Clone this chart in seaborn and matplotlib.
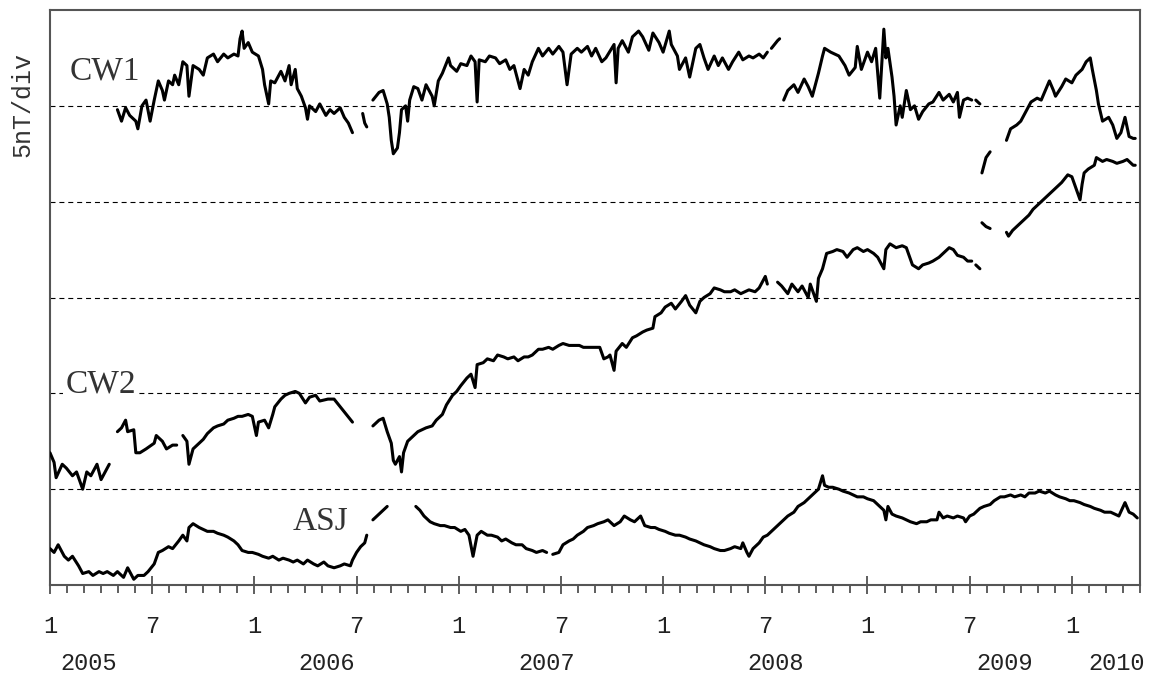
import numpy as np
import pandas as pd
import seaborn as sns
import matplotlib.pyplot as plt

gap = np.nan

# CW1 (decimal year, nT) - NaN marks a data gap
cw1_year = [
    2005.33, 2005.35, 2005.37, 2005.39, 2005.42, 2005.43, 2005.45, 2005.47, 2005.49, 2005.51,
    2005.53, 2005.55, 2005.56, 2005.58, 2005.60, 2005.61, 2005.63, 2005.65, 2005.67, 2005.68,
    2005.70, 2005.73, 2005.75, 2005.77, 2005.80, 2005.82, 2005.85, 2005.87, 2005.90, 2005.92,
    2005.93, 2005.94, 2005.95, 2005.97, 2005.99, 2006.02, 2006.04, 2006.05, 2006.07, 2006.08,
    2006.10, 2006.13, 2006.15, 2006.17, 2006.18, 2006.20, 2006.21, 2006.23, 2006.25, 2006.26,
    2006.27, 2006.30, 2006.32, 2006.35, 2006.37, 2006.39, 2006.42, 2006.44, 2006.46, 2006.48, gap,
    2006.53, 2006.54, 2006.55, gap,
    2006.58, 2006.61, 2006.63, 2006.65, 2006.66, 2006.67, 2006.68, 2006.70, 2006.71, 2006.72,
    2006.74, 2006.75, 2006.76, 2006.78, 2006.80, 2006.82, 2006.84, 2006.87, 2006.88, 2006.90,
    2006.92, 2006.95, 2006.96, 2006.99, 2007.01, 2007.04, 2007.06, 2007.08, 2007.09, 2007.10,
    2007.13, 2007.15, 2007.18, 2007.20, 2007.23, 2007.25, 2007.27, 2007.30, 2007.32, 2007.34,
    2007.36, 2007.39, 2007.41, 2007.44, 2007.46, 2007.49, 2007.51, 2007.53, 2007.55, 2007.58,
    2007.60, 2007.63, 2007.65, 2007.67, 2007.70, 2007.72, 2007.76, 2007.77, 2007.78, 2007.80,
    2007.83, 2007.85, 2007.88, 2007.90, 2007.93, 2007.95, 2007.98, 2008.00, 2008.03, 2008.04,
    2008.07, 2008.08, 2008.11, 2008.13, 2008.16, 2008.18, 2008.20, 2008.22, 2008.25, 2008.27,
    2008.29, 2008.32, 2008.34, 2008.37, 2008.39, 2008.42, 2008.44, 2008.47, 2008.49, 2008.51, gap,
    2008.53, 2008.56, 2008.57, gap,
    2008.59, 2008.61, 2008.64, 2008.66, 2008.69, 2008.71, 2008.73, 2008.76, 2008.78, 2008.79,
    2008.82, 2008.84, 2008.86, 2008.89, 2008.91, 2008.94, 2008.95, 2008.97, 2009.00, 2009.02,
    2009.04, 2009.06, 2009.08, 2009.09, 2009.10, 2009.12, 2009.13, 2009.14, 2009.16, 2009.17,
    2009.19, 2009.21, 2009.23, 2009.25, 2009.27, 2009.30, 2009.32, 2009.35, 2009.37, 2009.40,
    2009.42, 2009.44, 2009.45, 2009.47, 2009.49, 2009.51, gap,
    2009.53, 2009.55, gap,
    2009.56, 2009.58, 2009.60, gap,
    2009.68, 2009.70, 2009.73, 2009.75, 2009.78, 2009.80, 2009.83, 2009.85, 2009.87, 2009.89,
    2009.91, 2009.92, 2009.95, 2009.97, 2010.00, 2010.02, 2010.05, 2010.07, 2010.09, 2010.10,
    2010.12, 2010.13, 2010.15, 2010.18, 2010.20, 2010.22, 2010.24, 2010.26, 2010.28, 2010.30, 2010.31,
]
cw1_nt = [
    24.8, 24.2, 24.9, 24.5, 24.2, 23.8, 25.0, 25.3, 24.2, 25.3,
    26.3, 25.8, 25.3, 26.3, 26.1, 26.6, 26.1, 27.3, 27.1, 25.5,
    27.1, 26.9, 26.6, 27.5, 27.7, 27.3, 27.7, 27.5, 27.7, 27.6,
    28.5, 28.9, 28.0, 28.3, 27.8, 27.6, 26.9, 26.1, 25.1, 26.3,
    26.2, 26.8, 26.3, 27.1, 26.1, 26.9, 25.9, 25.5, 24.9, 24.3,
    25.0, 24.7, 25.1, 24.5, 24.8, 24.6, 24.9, 24.4, 24.1, 23.6, gap,
    24.6, 24.1, 23.9, gap,
    25.3, 25.7, 25.8, 25.1, 24.4, 23.2, 22.5, 22.8, 23.6, 24.8,
    25.0, 24.2, 25.3, 26.0, 25.9, 25.3, 26.1, 25.5, 25.0, 26.3,
    26.7, 27.5, 27.1, 26.8, 27.2, 27.1, 27.6, 27.3, 25.2, 27.4,
    27.3, 27.6, 27.5, 27.2, 27.4, 26.9, 27.1, 25.9, 26.9, 26.6,
    27.3, 28.0, 27.6, 28.0, 27.7, 28.1, 27.8, 26.1, 27.7, 28.0,
    27.8, 28.1, 27.6, 28.0, 27.3, 27.5, 28.2, 26.2, 28.0, 28.4,
    27.8, 28.6, 28.9, 28.6, 27.9, 28.8, 28.3, 27.8, 28.9, 28.2,
    27.6, 26.9, 27.5, 26.5, 28.0, 28.2, 27.5, 26.9, 27.6, 27.1,
    27.5, 26.9, 27.3, 27.8, 27.4, 27.6, 27.5, 27.7, 27.5, 27.8, gap,
    28.0, 28.4, 28.5, gap,
    25.3, 25.8, 26.1, 25.7, 26.4, 26.0, 25.5, 26.7, 27.6, 28.0,
    27.8, 27.7, 27.6, 27.1, 26.6, 27.0, 28.1, 26.9, 27.8, 27.3,
    28.0, 25.4, 29.0, 27.5, 28.0, 26.5, 25.5, 24.0, 25.0, 24.4,
    25.8, 24.8, 25.0, 24.3, 24.7, 25.1, 25.2, 25.7, 25.3, 25.6,
    25.2, 25.7, 24.4, 25.3, 25.4, 25.3, gap,
    25.3, 25.1, gap,
    21.5, 22.3, 22.6, gap,
    23.2, 23.8, 24.0, 24.2, 24.8, 25.2, 25.4, 25.3, 25.8, 26.3,
    25.8, 25.5, 26.0, 26.4, 26.2, 26.6, 26.9, 27.3, 27.5, 26.9,
    25.8, 25.1, 24.2, 24.4, 24.0, 23.3, 23.6, 24.4, 23.4, 23.3, 23.3,
]

# CW2
cw2_year = [
    2005.00, 2005.02, 2005.03, 2005.06, 2005.08, 2005.11, 2005.13, 2005.16, 2005.18, 2005.20,
    2005.23, 2005.25, 2005.28, 2005.29, gap,
    2005.33, 2005.35, 2005.37, 2005.38, 2005.41, 2005.42, 2005.44, 2005.47, 2005.51, 2005.52,
    2005.55, 2005.57, 2005.60, 2005.62, gap,
    2005.65, 2005.67, 2005.68, 2005.70, 2005.73, 2005.75, 2005.77, 2005.80, 2005.82, 2005.85,
    2005.87, 2005.90, 2005.92, 2005.94, 2005.97, 2005.99, 2006.01, 2006.02, 2006.05, 2006.07,
    2006.09, 2006.10, 2006.13, 2006.15, 2006.17, 2006.20, 2006.22, 2006.25, 2006.27, 2006.30,
    2006.32, 2006.36, 2006.39, 2006.42, 2006.45, 2006.48, gap,
    2006.58, 2006.61, 2006.63, 2006.65, 2006.67, 2006.68, 2006.69, 2006.71, 2006.72, 2006.73,
    2006.75, 2006.78, 2006.80, 2006.82, 2006.84, 2006.87, 2006.89, 2006.92, 2006.94, 2006.97,
    2006.99, 2007.01, 2007.04, 2007.06, 2007.08, 2007.09, 2007.12, 2007.14, 2007.17, 2007.19,
    2007.22, 2007.24, 2007.27, 2007.29, 2007.32, 2007.34, 2007.36, 2007.39, 2007.41, 2007.44,
    2007.46, 2007.49, 2007.51, 2007.54, 2007.56, 2007.59, 2007.61, 2007.64, 2007.66, 2007.69,
    2007.71, 2007.73, 2007.74, 2007.76, 2007.77, 2007.80, 2007.82, 2007.85, 2007.87, 2007.90,
    2007.92, 2007.95, 2007.96, 2007.99, 2008.01, 2008.04, 2008.06, 2008.09, 2008.11, 2008.13,
    2008.16, 2008.18, 2008.20, 2008.23, 2008.25, 2008.28, 2008.30, 2008.33, 2008.35, 2008.38,
    2008.40, 2008.42, 2008.45, 2008.47, 2008.50, 2008.51, gap,
    2008.56, 2008.58, 2008.61, 2008.63, 2008.66, 2008.68, 2008.71, 2008.72, 2008.75, 2008.76,
    2008.78, 2008.79, 2008.80, 2008.83, 2008.85, 2008.88, 2008.90, 2008.93, 2008.95, 2008.98,
    2009.00, 2009.03, 2009.05, 2009.08, 2009.09, 2009.11, 2009.14, 2009.17, 2009.19,
    2009.21, 2009.22, 2009.25, 2009.27, 2009.30, 2009.32, 2009.35, 2009.37, 2009.40, 2009.42,
    2009.44, 2009.47, 2009.49, 2009.51, gap,
    2009.53, 2009.55, gap,
    2009.56, 2009.58, 2009.60, gap,
    2009.68, 2009.69, 2009.71, 2009.74, 2009.76, 2009.79, 2009.81, 2009.84, 2009.86, 2009.89,
    2009.91, 2009.94, 2009.95, 2009.98, 2010.00, 2010.02, 2010.04, 2010.05, 2010.06, 2010.08,
    2010.11, 2010.12, 2010.15, 2010.17, 2010.20, 2010.22, 2010.25, 2010.27, 2010.30, 2010.31,
]
cw2_nt = [
    6.9, 6.4, 5.6, 6.3, 6.1, 5.7, 5.9, 5.0, 5.9, 5.7,
    6.3, 5.5, 6.1, 6.3, gap,
    8.0, 8.2, 8.6, 8.0, 8.1, 6.9, 6.9, 7.1, 7.4, 7.8,
    7.5, 7.1, 7.3, 7.3, gap,
    7.8, 7.5, 6.3, 7.1, 7.4, 7.6, 7.9, 8.2, 8.3, 8.4,
    8.6, 8.7, 8.8, 8.8, 8.9, 8.8, 7.8, 8.5, 8.6, 8.2,
    8.9, 9.3, 9.7, 9.9, 10.0, 10.1, 10.0, 9.5, 9.8, 9.9,
    9.6, 9.7, 9.7, 9.3, 8.9, 8.5, gap,
    8.3, 8.6, 8.7, 8.0, 7.4, 6.5, 6.3, 6.7, 5.9, 6.9,
    7.5, 7.8, 8.0, 8.1, 8.2, 8.3, 8.6, 8.9, 9.4, 9.9,
    10.1, 10.4, 10.8, 11.0, 10.3, 11.5, 11.6, 11.8, 11.7, 12.0,
    11.9, 11.8, 11.9, 11.7, 11.9, 11.9, 12.0, 12.3, 12.3, 12.4,
    12.3, 12.5, 12.6, 12.5, 12.5, 12.5, 12.4, 12.4, 12.4, 12.4,
    11.8, 11.9, 12.0, 11.2, 12.2, 12.6, 12.4, 12.9, 13.0, 13.2,
    13.3, 13.4, 14.0, 14.2, 14.5, 14.7, 14.4, 14.8, 15.1, 14.6,
    14.2, 14.8, 15.0, 15.2, 15.5, 15.4, 15.3, 15.3, 15.4, 15.2,
    15.3, 15.4, 15.3, 15.5, 16.1, 15.7, gap,
    15.8, 15.6, 15.2, 15.7, 15.3, 15.6, 15.0, 15.7, 14.8, 16.0,
    16.5, 16.9, 17.3, 17.4, 17.5, 17.4, 17.1, 17.5, 17.6, 17.4,
    17.5, 17.3, 17.1, 16.5, 17.5, 17.8, 17.6, 17.7, 17.6,
    17.0, 16.7, 16.5, 16.7, 16.8, 16.9, 17.1, 17.3, 17.6, 17.5,
    17.2, 17.1, 16.9, 16.9, gap,
    16.7, 16.5, gap,
    18.9, 18.7, 18.6, gap,
    18.4, 18.2, 18.5, 18.8, 19.0, 19.3, 19.6, 19.9, 20.1, 20.4,
    20.6, 20.9, 21.0, 21.4, 21.3, 20.7, 20.1, 20.9, 21.5, 21.7,
    21.9, 22.3, 22.1, 22.2, 22.1, 22.0, 22.1, 22.2, 21.9, 21.9,
]

# ASJ
asj_year = [
    2005.00, 2005.02, 2005.04, 2005.07, 2005.09, 2005.11, 2005.14, 2005.16, 2005.19, 2005.21,
    2005.24, 2005.26, 2005.28, 2005.31, 2005.33, 2005.36, 2005.38, 2005.41, 2005.43, 2005.46,
    2005.48, 2005.51, 2005.53, 2005.55, 2005.58, 2005.60, 2005.63, 2005.65, 2005.67, 2005.68,
    2005.70, 2005.73, 2005.75, 2005.77, 2005.80, 2005.82, 2005.85, 2005.87, 2005.90, 2005.92,
    2005.94, 2005.97, 2005.99, 2006.02, 2006.04, 2006.07, 2006.09, 2006.12, 2006.14, 2006.17,
    2006.19, 2006.21, 2006.24, 2006.26, 2006.29, 2006.31, 2006.34, 2006.36, 2006.39, 2006.42,
    2006.44, 2006.47, 2006.48, 2006.50, 2006.52, 2006.54, 2006.55, gap,
    2006.58, 2006.61, 2006.65, gap,
    2006.79, 2006.81, 2006.83, 2006.86, 2006.88, 2006.91, 2006.93, 2006.96, 2006.98, 2007.01,
    2007.03, 2007.05, 2007.07, 2007.09, 2007.11, 2007.14, 2007.16, 2007.19, 2007.21, 2007.23,
    2007.26, 2007.28, 2007.31, 2007.33, 2007.36, 2007.38, 2007.41, 2007.43, gap,
    2007.46, 2007.49, 2007.51, 2007.54, 2007.56, 2007.58, 2007.61, 2007.63, 2007.66, 2007.68,
    2007.71, 2007.73, 2007.76, 2007.79, 2007.81, 2007.84, 2007.86, 2007.89, 2007.91, 2007.94,
    2007.96, 2007.98, 2008.01, 2008.03, 2008.06, 2008.08, 2008.11, 2008.13, 2008.16, 2008.18,
    2008.20, 2008.23, 2008.25, 2008.28, 2008.30, 2008.33, 2008.35, 2008.38, 2008.39, 2008.41,
    2008.42, 2008.44, 2008.47, 2008.49, 2008.51, 2008.54, 2008.56, 2008.59, 2008.61, 2008.64,
    2008.66, 2008.69, 2008.71, 2008.73, 2008.76, 2008.78, 2008.79, 2008.81, 2008.83, 2008.86,
    2008.88, 2008.91, 2008.93, 2008.95, 2008.98, 2009.00, 2009.03, 2009.05, 2009.08, 2009.09,
    2009.10, 2009.12, 2009.14, 2009.17, 2009.19, 2009.21, 2009.24, 2009.26, 2009.29, 2009.31,
    2009.34, 2009.35, 2009.37, 2009.39, 2009.42, 2009.44, 2009.47, 2009.48, 2009.50, 2009.52,
    2009.55, 2009.57, 2009.60, 2009.62, 2009.65, 2009.67, 2009.70, 2009.72, 2009.75, 2009.77,
    2009.79, 2009.82, 2009.84, 2009.87, 2009.89, 2009.92, 2009.94, 2009.97, 2009.99, 2010.01,
    2010.04, 2010.06, 2010.09, 2010.11, 2010.14, 2010.16, 2010.19, 2010.21, 2010.23, 2010.26,
    2010.28, 2010.30, 2010.32,
]
asj_nt = [
    1.9, 1.7, 2.1, 1.5, 1.3, 1.5, 1.0, 0.6, 0.7, 0.5,
    0.7, 0.6, 0.7, 0.5, 0.7, 0.4, 0.9, 0.3, 0.5, 0.5,
    0.7, 1.1, 1.7, 1.8, 2.0, 1.9, 2.3, 2.6, 2.3, 3.0,
    3.2, 3.0, 2.9, 2.8, 2.8, 2.7, 2.6, 2.5, 2.3, 2.1,
    1.8, 1.7, 1.7, 1.6, 1.5, 1.4, 1.5, 1.3, 1.4, 1.3,
    1.2, 1.3, 1.1, 1.3, 1.1, 1.0, 1.2, 1.0, 0.9, 1.0,
    1.1, 1.0, 1.3, 1.7, 2.0, 2.2, 2.6, gap,
    3.4, 3.7, 4.1, gap,
    4.1, 3.9, 3.6, 3.3, 3.2, 3.1, 3.1, 3.0, 3.0, 2.8,
    2.9, 2.6, 1.5, 2.6, 2.8, 2.6, 2.6, 2.5, 2.3, 2.4,
    2.2, 2.1, 2.1, 1.9, 1.8, 1.7, 1.8, 1.7, gap,
    1.6, 1.7, 2.1, 2.3, 2.4, 2.6, 2.8, 3.0, 3.1, 3.2,
    3.3, 3.4, 3.1, 3.3, 3.6, 3.4, 3.3, 3.6, 3.1, 3.0,
    3.0, 2.9, 2.8, 2.7, 2.6, 2.6, 2.5, 2.4, 2.3, 2.2,
    2.1, 2.0, 1.9, 1.8, 1.8, 1.9, 2.0, 1.9, 2.2, 1.7,
    1.5, 1.9, 2.2, 2.5, 2.6, 2.9, 3.1, 3.4, 3.6, 3.8,
    4.1, 4.3, 4.5, 4.7, 5.0, 5.7, 5.2, 5.1, 5.1, 5.0,
    4.9, 4.8, 4.7, 4.6, 4.6, 4.5, 4.4, 4.2, 3.9, 3.4,
    4.1, 3.7, 3.6, 3.5, 3.4, 3.3, 3.2, 3.3, 3.3, 3.4,
    3.4, 3.8, 3.5, 3.6, 3.5, 3.6, 3.5, 3.3, 3.6, 3.7,
    4.0, 4.1, 4.2, 4.4, 4.6, 4.6, 4.7, 4.6, 4.7, 4.6,
    4.8, 4.8, 4.9, 4.8, 4.9, 4.7, 4.6, 4.5, 4.4, 4.4,
    4.3, 4.2, 4.1, 4.0, 3.9, 3.8, 3.8, 3.7, 3.6, 4.3,
    3.8, 3.7, 3.5,
]

div_levels = [5, 10, 15, 20, 25]
month_labels = ['1', '7'] * 5 + ['1']
year_labels = ['2005', '2006', '2007', '2008', '2009', '2010']
year_label_x = [2005.19, 2006.355, 2007.43, 2008.55, 2009.67, 2010.22]


def to_frame(years, values):
    df = pd.DataFrame({'year': years, 'nT': values})
    df['seg'] = df['nT'].isna().cumsum()
    return df.dropna()


sns.set_style('white')
plt.rcParams['font.family'] = ['Liberation Mono', 'DejaVu Sans']

fig = plt.figure(figsize=(11.57, 6.75), dpi=100)
ax = fig.add_axes([0.0432, 0.1333, 0.9421, 0.8519])

# 5 nT division lines
for lvl in div_levels:
    ax.axhline(lvl, color='black', lw=0.8, ls=(0, (4.5, 3.5)), zorder=1)

for years, values in [(cw1_year, cw1_nt), (cw2_year, cw2_nt), (asj_year, asj_nt)]:
    sns.lineplot(data=to_frame(years, values), x='year', y='nT', units='seg',
                 estimator=None, sort=False, color='black', lw=2.2, ax=ax, legend=False, zorder=3)

ax.set_xlim(2005, 2010 + 4 / 12)
ax.set_ylim(0, 30)
ax.set_xticks([2005 + 0.5 * i for i in range(11)])
ax.set_xticklabels(month_labels)
ax.set_xticks([2005 + m / 12 for m in range(65)], minor=True)
ax.set_yticks([])
ax.set_xlabel('')
ax.set_ylabel('5nT/div', fontsize=18, color='#333333')
ax.yaxis.set_label_coords(-0.014, 0.835)

ax.tick_params(axis='x', which='both', bottom=True, top=False)
ax.tick_params(axis='x', which='major', direction='inout', length=13, width=1.1,
               color='#333333', pad=15, labelsize=17, labelcolor='#222222')
ax.tick_params(axis='x', which='minor', direction='out', length=5.8, width=1.1, color='#333333')
for s in ax.spines.values():
    s.set_color('#555555')
    s.set_linewidth(1.5)

for lab, x in zip(year_labels, year_label_x):
    ax.text(x, -0.1357, lab, transform=ax.get_xaxis_transform(), ha='center', va='center',
            fontsize=17, color='#222222')

serif = ['Liberation Serif', 'DejaVu Serif']
ax.text(2005.27, 26.8, 'CW1', family=serif, fontsize=24, ha='center', va='center', color='#333333')
ax.text(2005.25, 10.5, 'CW2', family=serif, fontsize=24, ha='center', va='center', color='#333333',
        zorder=4, bbox=dict(facecolor='white', edgecolor='none', pad=2))
ax.text(2006.326, 3.3, 'ASJ', family=serif, fontsize=24, ha='center', va='center', color='#333333')

plt.savefig('out.png', dpi=100)
